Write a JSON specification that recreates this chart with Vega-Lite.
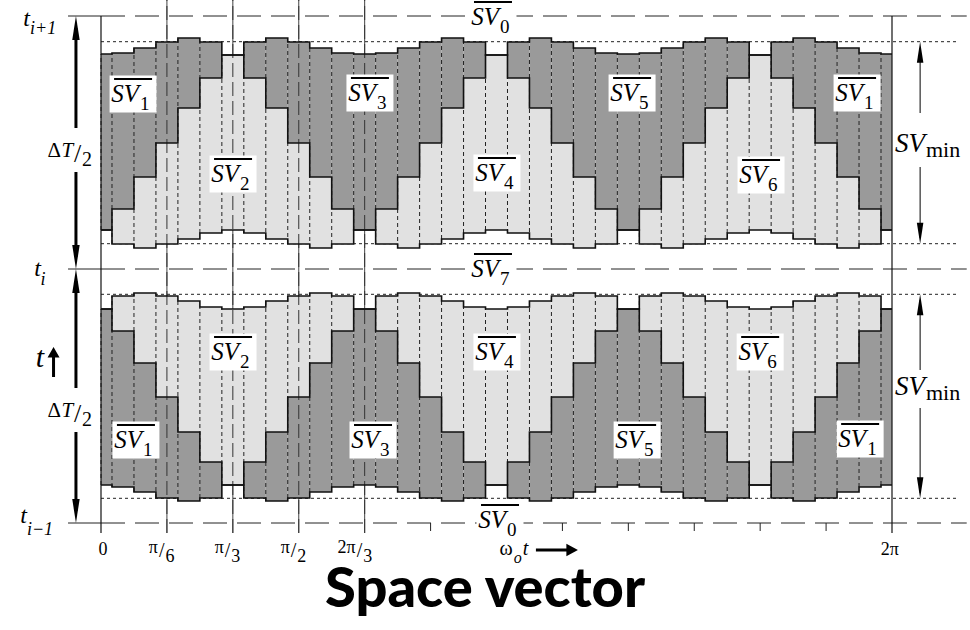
{
"$schema": "https://vega.github.io/schema/vega-lite/v6.json",
"width": 791, "height": 507,
"autosize": {"type": "none"},
"padding": {"left": 101, "top": 16, "right": 78, "bottom": 107},
"background": "white",
"config": {"view": {"stroke": null}, "text": {"font": "'Liberation Serif', 'Times New Roman', Times, serif"}},
"datasets": {
"cols": [
{"h":"u","a":0,"a0":0,"a1":5,"top":469,"mid":293,"bot":293,"up":"SV1","lo":"SV2"},
{"h":"u","a":10,"a0":5,"a1":15,"top":470,"mid":314,"bot":279,"up":"SV1","lo":"SV2"},
{"h":"u","a":20,"a0":15,"a1":25,"top":475,"mid":346,"bot":275,"up":"SV1","lo":"SV2"},
{"h":"u","a":30,"a0":25,"a1":35,"top":481,"mid":380,"bot":279,"up":"SV1","lo":"SV2"},
{"h":"u","a":40,"a0":35,"a1":45,"top":485,"mid":415,"bot":284,"up":"SV1","lo":"SV2"},
{"h":"u","a":50,"a0":45,"a1":55,"top":481,"mid":445,"bot":290,"up":"SV1","lo":"SV2"},
{"h":"u","a":60,"a0":55,"a1":65,"top":468,"mid":468,"bot":293,"up":"SV3","lo":"SV2"},
{"h":"u","a":70,"a0":65,"a1":75,"top":481,"mid":445,"bot":290,"up":"SV3","lo":"SV2"},
{"h":"u","a":80,"a0":75,"a1":85,"top":485,"mid":415,"bot":284,"up":"SV3","lo":"SV2"},
{"h":"u","a":90,"a0":85,"a1":95,"top":481,"mid":380,"bot":279,"up":"SV3","lo":"SV2"},
{"h":"u","a":100,"a0":95,"a1":105,"top":475,"mid":346,"bot":275,"up":"SV3","lo":"SV2"},
{"h":"u","a":110,"a0":105,"a1":115,"top":470,"mid":314,"bot":279,"up":"SV3","lo":"SV2"},
{"h":"u","a":120,"a0":115,"a1":125,"top":469,"mid":293,"bot":293,"up":"SV3","lo":"SV4"},
{"h":"u","a":130,"a0":125,"a1":135,"top":470,"mid":314,"bot":279,"up":"SV3","lo":"SV4"},
{"h":"u","a":140,"a0":135,"a1":145,"top":475,"mid":346,"bot":275,"up":"SV3","lo":"SV4"},
{"h":"u","a":150,"a0":145,"a1":155,"top":481,"mid":380,"bot":279,"up":"SV3","lo":"SV4"},
{"h":"u","a":160,"a0":155,"a1":165,"top":485,"mid":415,"bot":284,"up":"SV3","lo":"SV4"},
{"h":"u","a":170,"a0":165,"a1":175,"top":481,"mid":445,"bot":290,"up":"SV3","lo":"SV4"},
{"h":"u","a":180,"a0":175,"a1":185,"top":468,"mid":468,"bot":293,"up":"SV5","lo":"SV4"},
{"h":"u","a":190,"a0":185,"a1":195,"top":481,"mid":445,"bot":290,"up":"SV5","lo":"SV4"},
{"h":"u","a":200,"a0":195,"a1":205,"top":485,"mid":415,"bot":284,"up":"SV5","lo":"SV4"},
{"h":"u","a":210,"a0":205,"a1":215,"top":481,"mid":380,"bot":279,"up":"SV5","lo":"SV4"},
{"h":"u","a":220,"a0":215,"a1":225,"top":475,"mid":346,"bot":275,"up":"SV5","lo":"SV4"},
{"h":"u","a":230,"a0":225,"a1":235,"top":470,"mid":314,"bot":279,"up":"SV5","lo":"SV4"},
{"h":"u","a":240,"a0":235,"a1":245,"top":469,"mid":293,"bot":293,"up":"SV5","lo":"SV6"},
{"h":"u","a":250,"a0":245,"a1":255,"top":470,"mid":314,"bot":279,"up":"SV5","lo":"SV6"},
{"h":"u","a":260,"a0":255,"a1":265,"top":475,"mid":346,"bot":275,"up":"SV5","lo":"SV6"},
{"h":"u","a":270,"a0":265,"a1":275,"top":481,"mid":380,"bot":279,"up":"SV5","lo":"SV6"},
{"h":"u","a":280,"a0":275,"a1":285,"top":485,"mid":415,"bot":284,"up":"SV5","lo":"SV6"},
{"h":"u","a":290,"a0":285,"a1":295,"top":481,"mid":445,"bot":290,"up":"SV5","lo":"SV6"},
{"h":"u","a":300,"a0":295,"a1":305,"top":468,"mid":468,"bot":293,"up":"SV1","lo":"SV6"},
{"h":"u","a":310,"a0":305,"a1":315,"top":481,"mid":445,"bot":290,"up":"SV1","lo":"SV6"},
{"h":"u","a":320,"a0":315,"a1":325,"top":485,"mid":415,"bot":284,"up":"SV1","lo":"SV6"},
{"h":"u","a":330,"a0":325,"a1":335,"top":481,"mid":380,"bot":279,"up":"SV1","lo":"SV6"},
{"h":"u","a":340,"a0":335,"a1":345,"top":475,"mid":346,"bot":275,"up":"SV1","lo":"SV6"},
{"h":"u","a":350,"a0":345,"a1":355,"top":470,"mid":314,"bot":279,"up":"SV1","lo":"SV6"},
{"h":"u","a":360,"a0":355,"a1":360,"top":469,"mid":293,"bot":293,"up":"SV1","lo":"SV6"},
{"h":"l","a":0,"a0":0,"a1":5,"top":214,"mid":214,"bot":38,"up":"SV2","lo":"SV1"},
{"h":"l","a":10,"a0":5,"a1":15,"top":227,"mid":192,"bot":36,"up":"SV2","lo":"SV1"},
{"h":"l","a":20,"a0":15,"a1":25,"top":230,"mid":160,"bot":31,"up":"SV2","lo":"SV1"},
{"h":"l","a":30,"a0":25,"a1":35,"top":227,"mid":126,"bot":25,"up":"SV2","lo":"SV1"},
{"h":"l","a":40,"a0":35,"a1":45,"top":222,"mid":91,"bot":22,"up":"SV2","lo":"SV1"},
{"h":"l","a":50,"a0":45,"a1":55,"top":216,"mid":61,"bot":25,"up":"SV2","lo":"SV1"},
{"h":"l","a":60,"a0":55,"a1":65,"top":214,"mid":38,"bot":38,"up":"SV2","lo":"SV3"},
{"h":"l","a":70,"a0":65,"a1":75,"top":216,"mid":61,"bot":25,"up":"SV2","lo":"SV3"},
{"h":"l","a":80,"a0":75,"a1":85,"top":222,"mid":91,"bot":22,"up":"SV2","lo":"SV3"},
{"h":"l","a":90,"a0":85,"a1":95,"top":227,"mid":126,"bot":25,"up":"SV2","lo":"SV3"},
{"h":"l","a":100,"a0":95,"a1":105,"top":230,"mid":160,"bot":31,"up":"SV2","lo":"SV3"},
{"h":"l","a":110,"a0":105,"a1":115,"top":227,"mid":192,"bot":36,"up":"SV2","lo":"SV3"},
{"h":"l","a":120,"a0":115,"a1":125,"top":214,"mid":214,"bot":38,"up":"SV4","lo":"SV3"},
{"h":"l","a":130,"a0":125,"a1":135,"top":227,"mid":192,"bot":36,"up":"SV4","lo":"SV3"},
{"h":"l","a":140,"a0":135,"a1":145,"top":230,"mid":160,"bot":31,"up":"SV4","lo":"SV3"},
{"h":"l","a":150,"a0":145,"a1":155,"top":227,"mid":126,"bot":25,"up":"SV4","lo":"SV3"},
{"h":"l","a":160,"a0":155,"a1":165,"top":222,"mid":91,"bot":22,"up":"SV4","lo":"SV3"},
{"h":"l","a":170,"a0":165,"a1":175,"top":216,"mid":61,"bot":25,"up":"SV4","lo":"SV3"},
{"h":"l","a":180,"a0":175,"a1":185,"top":214,"mid":38,"bot":38,"up":"SV4","lo":"SV5"},
{"h":"l","a":190,"a0":185,"a1":195,"top":216,"mid":61,"bot":25,"up":"SV4","lo":"SV5"},
{"h":"l","a":200,"a0":195,"a1":205,"top":222,"mid":91,"bot":22,"up":"SV4","lo":"SV5"},
{"h":"l","a":210,"a0":205,"a1":215,"top":227,"mid":126,"bot":25,"up":"SV4","lo":"SV5"},
{"h":"l","a":220,"a0":215,"a1":225,"top":230,"mid":160,"bot":31,"up":"SV4","lo":"SV5"},
{"h":"l","a":230,"a0":225,"a1":235,"top":227,"mid":192,"bot":36,"up":"SV4","lo":"SV5"},
{"h":"l","a":240,"a0":235,"a1":245,"top":214,"mid":214,"bot":38,"up":"SV6","lo":"SV5"},
{"h":"l","a":250,"a0":245,"a1":255,"top":227,"mid":192,"bot":36,"up":"SV6","lo":"SV5"},
{"h":"l","a":260,"a0":255,"a1":265,"top":230,"mid":160,"bot":31,"up":"SV6","lo":"SV5"},
{"h":"l","a":270,"a0":265,"a1":275,"top":227,"mid":126,"bot":25,"up":"SV6","lo":"SV5"},
{"h":"l","a":280,"a0":275,"a1":285,"top":222,"mid":91,"bot":22,"up":"SV6","lo":"SV5"},
{"h":"l","a":290,"a0":285,"a1":295,"top":216,"mid":61,"bot":25,"up":"SV6","lo":"SV5"},
{"h":"l","a":300,"a0":295,"a1":305,"top":214,"mid":38,"bot":38,"up":"SV6","lo":"SV1"},
{"h":"l","a":310,"a0":305,"a1":315,"top":216,"mid":61,"bot":25,"up":"SV6","lo":"SV1"},
{"h":"l","a":320,"a0":315,"a1":325,"top":222,"mid":91,"bot":22,"up":"SV6","lo":"SV1"},
{"h":"l","a":330,"a0":325,"a1":335,"top":227,"mid":126,"bot":25,"up":"SV6","lo":"SV1"},
{"h":"l","a":340,"a0":335,"a1":345,"top":230,"mid":160,"bot":31,"up":"SV6","lo":"SV1"},
{"h":"l","a":350,"a0":345,"a1":355,"top":227,"mid":192,"bot":36,"up":"SV6","lo":"SV1"},
{"h":"l","a":360,"a0":355,"a1":360,"top":214,"mid":214,"bot":38,"up":"SV6","lo":"SV1"}
],
"vgrid": [{"a":30,"v0":-10,"v1":523},{"a":60,"v0":-10,"v1":523},{"a":90,"v0":-10,"v1":523},{"a":120,"v0":-10,"v1":523}],
"edges": [{"a":0,"v0":-10,"v1":507},{"a":360,"v0":-10,"v1":507}],
"ticks": [{"a":150,"v0":0,"v1":-8},{"a":180,"v0":0,"v1":-8},{"a":210,"v0":0,"v1":-8},{"a":240,"v0":0,"v1":-8},{"a":270,"v0":0,"v1":-8},{"a":300,"v0":0,"v1":-8},{"a":330,"v0":0,"v1":-8}],
"hsolid": [{"v":507,"a0":-15,"a1":0},{"v":254,"a0":-15,"a1":0},{"v":0,"a0":-15,"a1":0}],
"hdash": [{"v":507,"a0":0,"a1":394},{"v":254,"a0":0,"a1":394},{"v":0,"a0":0,"a1":394}],
"hdot": [{"v":481.3,"a0":0,"a1":390},{"v":279.3,"a0":0,"a1":390},{"v":228.7,"a0":0,"a1":390},{"v":24.7,"a0":0,"a1":390}],
"svlab": [
{"a":14.6,"v":429,"n":"1"},{"a":60.1,"v":349,"n":"2"},{"a":122.4,"v":430,"n":"3"},{"a":180.2,"v":350,"n":"4"},{"a":241.7,"v":430,"n":"5"},{"a":300.4,"v":348,"n":"6"},{"a":344.1,"v":430,"n":"1"},
{"a":15.9,"v":83,"n":"1"},{"a":60.1,"v":171,"n":"2"},{"a":123.8,"v":83,"n":"3"},{"a":180.2,"v":171,"n":"4"},{"a":244,"v":83,"n":"5"},{"a":300,"v":171,"n":"6"},{"a":345.5,"v":84,"n":"1"},
{"a":178.4,"v":506,"n":"0"},{"a":178.4,"v":254,"n":"7"},{"a":181.6,"v":3,"n":"0"}
],
"larrow": [{"a":-11.4,"v0":495,"v1":395},{"a":-11.4,"v0":351,"v1":266},{"a":-11.4,"v0":242,"v1":135},{"a":-11.4,"v0":91,"v1":12}],
"lheads": [{"a":-11.4,"v":507,"d":"up"},{"a":-11.4,"v":254,"d":"down"},{"a":-11.4,"v":254,"d":"up"},{"a":-11.4,"v":0,"d":"down"}],
"rarrow": [{"a":372.8,"v0":475,"v1":410},{"a":372.8,"v0":356,"v1":285},{"a":372.8,"v0":223,"v1":153},{"a":372.8,"v0":115,"v1":30}],
"rheads": [{"a":372.8,"v":481.3,"d":"up"},{"a":372.8,"v":279.3,"d":"down"},{"a":372.8,"v":228.7,"d":"up"},{"a":372.8,"v":24.7,"d":"down"}],
"tmain": [{"a":-32.3,"v":497},{"a":-27.3,"v":247},{"a":-33.7,"v":0}],
"tsub": [{"a":-32.3,"v":489,"s":"i+1"},{"a":-27.5,"v":238,"s":"i"},{"a":-33.7,"v":-12,"s":"i−1"}],
"dt": [{"a":-12.7,"v":366},{"a":-12.7,"v":106}],
"svmin": [{"a":375,"v":371},{"a":375,"v":128}],
"tarrow": [{"a":-25.9,"v":156,"ax":-21.6,"av":161}],
"single": [{"a":0.9,"v":-32,"s":"0"},{"a":359,"v":-32,"s":"2π"}],
"fracs": [{"a":30,"v":-30,"num":"π","den":"6"},{"a":60,"v":-30,"num":"π","den":"3"},{"a":90,"v":-30,"num":"π","den":"2"},{"a":120,"v":-30,"num":"2π","den":"3"}],
"omega": [{"a":186.5,"v":-32,"aa":207.5,"av":-27}],
"title": [{"a":174.8,"v":-84,"s":"Space vector"}]
},
"layer": [
{"data":{"name":"vgrid"},"mark":{"type":"rule","color":"#444","strokeWidth":1},
 "encoding":{"x":{"field":"a","type":"quantitative","scale":{"domain":[0,360],"nice":false,"zero":false},"axis":null},
 "y":{"field":"v0","type":"quantitative","scale":{"domain":[0,507],"nice":false,"zero":false},"axis":null},"y2":{"field":"v1"}}},
{"data":{"name":"ticks"},"mark":{"type":"rule","color":"#222","strokeWidth":1},
 "encoding":{"x":{"field":"a","type":"quantitative","scale":{"domain":[0,360],"nice":false,"zero":false},"axis":null},
 "y":{"field":"v0","type":"quantitative","scale":{"domain":[0,507],"nice":false,"zero":false},"axis":null},"y2":{"field":"v1"}}},
{"data":{"name":"hsolid"},"mark":{"type":"rule","color":"#222","strokeWidth":1},
 "encoding":{"x":{"field":"a0","type":"quantitative","scale":{"domain":[0,360],"nice":false,"zero":false},"axis":null},"x2":{"field":"a1"},
 "y":{"field":"v","type":"quantitative","scale":{"domain":[0,507],"nice":false,"zero":false},"axis":null}}},
{"data":{"name":"hdash"},"mark":{"type":"rule","color":"#222","strokeWidth":1,"strokeDash":[24,10]},
 "encoding":{"x":{"field":"a0","type":"quantitative","scale":{"domain":[0,360],"nice":false,"zero":false},"axis":null},"x2":{"field":"a1"},
 "y":{"field":"v","type":"quantitative","scale":{"domain":[0,507],"nice":false,"zero":false},"axis":null}}},
{"data":{"name":"hdot"},"mark":{"type":"rule","color":"#222","strokeWidth":1,"strokeDash":[3,3]},
 "encoding":{"x":{"field":"a0","type":"quantitative","scale":{"domain":[0,360],"nice":false,"zero":false},"axis":null},"x2":{"field":"a1"},
 "y":{"field":"v","type":"quantitative","scale":{"domain":[0,507],"nice":false,"zero":false},"axis":null}}},
{"data":{"name":"cols"},"mark":{"type":"rect","strokeWidth":0},
 "encoding":{"x":{"field":"a0","type":"quantitative","scale":{"domain":[0,360],"nice":false,"zero":false},"axis":null},"x2":{"field":"a1"},
 "y":{"field":"mid","type":"quantitative","scale":{"domain":[0,507],"nice":false,"zero":false},"axis":null},"y2":{"field":"top"},
 "color":{"field":"up","type":"nominal","scale":{"domain":["SV1","SV2","SV3","SV4","SV5","SV6"],"range":["#9a9a9a","#e1e1e1","#9a9a9a","#e1e1e1","#9a9a9a","#e1e1e1"]},"legend":null}}},
{"data":{"name":"cols"},"mark":{"type":"rect","strokeWidth":0},
 "encoding":{"x":{"field":"a0","type":"quantitative","scale":{"domain":[0,360],"nice":false,"zero":false},"axis":null},"x2":{"field":"a1"},
 "y":{"field":"bot","type":"quantitative","scale":{"domain":[0,507],"nice":false,"zero":false},"axis":null},"y2":{"field":"mid"},
 "color":{"field":"lo","type":"nominal","scale":{"domain":["SV1","SV2","SV3","SV4","SV5","SV6"],"range":["#9a9a9a","#e1e1e1","#9a9a9a","#e1e1e1","#9a9a9a","#e1e1e1"]},"legend":null}}},
{"data":{"name":"vgrid"},"mark":{"type":"rule","color":"#333","strokeWidth":1,"strokeDash":[14,5]},
 "encoding":{"x":{"field":"a","type":"quantitative","scale":{"domain":[0,360],"nice":false,"zero":false},"axis":null},
 "y":{"field":"v0","type":"quantitative","scale":{"domain":[0,507],"nice":false,"zero":false},"axis":null},"y2":{"field":"v1"}}},
{"data":{"name":"cols"},"mark":{"type":"rule","color":"#222","strokeWidth":1,"strokeDash":[4,3]},
 "encoding":{"x":{"field":"a0","type":"quantitative","scale":{"domain":[0,360],"nice":false,"zero":false},"axis":null},
 "y":{"field":"bot","type":"quantitative","scale":{"domain":[0,507],"nice":false,"zero":false},"axis":null},"y2":{"field":"top"}}},
{"data":{"name":"edges"},"mark":{"type":"rule","color":"#111","strokeWidth":1.2},
 "encoding":{"x":{"field":"a","type":"quantitative","scale":{"domain":[0,360],"nice":false,"zero":false},"axis":null},
 "y":{"field":"v0","type":"quantitative","scale":{"domain":[0,507],"nice":false,"zero":false},"axis":null},"y2":{"field":"v1"}}},
{"data":{"name":"cols"},"mark":{"type":"line","interpolate":"step","color":"#111","strokeWidth":1.6},
 "encoding":{"x":{"field":"a","type":"quantitative","scale":{"domain":[0,360],"nice":false,"zero":false},"axis":null},
 "y":{"field":"top","type":"quantitative","scale":{"domain":[0,507],"nice":false,"zero":false},"axis":null},"detail":{"field":"h"}}},
{"data":{"name":"cols"},"mark":{"type":"line","interpolate":"step","color":"#111","strokeWidth":1.6},
 "encoding":{"x":{"field":"a","type":"quantitative","scale":{"domain":[0,360],"nice":false,"zero":false},"axis":null},
 "y":{"field":"mid","type":"quantitative","scale":{"domain":[0,507],"nice":false,"zero":false},"axis":null},"detail":{"field":"h"}}},
{"data":{"name":"cols"},"mark":{"type":"line","interpolate":"step","color":"#111","strokeWidth":1.6},
 "encoding":{"x":{"field":"a","type":"quantitative","scale":{"domain":[0,360],"nice":false,"zero":false},"axis":null},
 "y":{"field":"bot","type":"quantitative","scale":{"domain":[0,507],"nice":false,"zero":false},"axis":null},"detail":{"field":"h"}}},
{"data":{"name":"svlab"},"mark":{"type":"point","shape":"M-1,-0.79H1V0.79H-1Z","size":2209,"filled":true,"color":"white","opacity":1,"strokeWidth":0},
 "encoding":{"x":{"field":"a","type":"quantitative","scale":{"domain":[0,360],"nice":false,"zero":false},"axis":null},
 "y":{"field":"v","type":"quantitative","scale":{"domain":[0,507],"nice":false,"zero":false},"axis":null}}},
{"data":{"name":"svlab"},"mark":{"type":"text","text":"SV","fontStyle":"italic","fontSize":25,"align":"right","baseline":"alphabetic","dx":6,"dy":8,"color":"black"},
 "encoding":{"x":{"field":"a","type":"quantitative","scale":{"domain":[0,360],"nice":false,"zero":false},"axis":null},
 "y":{"field":"v","type":"quantitative","scale":{"domain":[0,507],"nice":false,"zero":false},"axis":null}}},
{"data":{"name":"svlab"},"mark":{"type":"text","fontSize":19,"align":"left","baseline":"alphabetic","dx":7,"dy":16,"color":"black"},
 "encoding":{"x":{"field":"a","type":"quantitative","scale":{"domain":[0,360],"nice":false,"zero":false},"axis":null},
 "y":{"field":"v","type":"quantitative","scale":{"domain":[0,507],"nice":false,"zero":false},"axis":null},"text":{"field":"n"}}},
{"data":{"name":"svlab"},"mark":{"type":"rule","color":"black","strokeWidth":2,"xOffset":-19,"x2Offset":19,"yOffset":-15},
 "encoding":{"x":{"field":"a","type":"quantitative","scale":{"domain":[0,360],"nice":false,"zero":false},"axis":null},"x2":{"field":"a"},
 "y":{"field":"v","type":"quantitative","scale":{"domain":[0,507],"nice":false,"zero":false},"axis":null}}},
{"data":{"name":"larrow"},"mark":{"type":"rule","color":"black","strokeWidth":3},
 "encoding":{"x":{"field":"a","type":"quantitative","scale":{"domain":[0,360],"nice":false,"zero":false},"axis":null},
 "y":{"field":"v0","type":"quantitative","scale":{"domain":[0,507],"nice":false,"zero":false},"axis":null},"y2":{"field":"v1"}}},
{"data":{"name":"lheads"},"mark":{"type":"point","size":576,"filled":true,"color":"black","opacity":1,"strokeWidth":0},
 "encoding":{"x":{"field":"a","type":"quantitative","scale":{"domain":[0,360],"nice":false,"zero":false},"axis":null},
 "y":{"field":"v","type":"quantitative","scale":{"domain":[0,507],"nice":false,"zero":false},"axis":null},
 "shape":{"field":"d","type":"nominal","scale":{"domain":["up","down"],"range":["M0,0L0.31,2L-0.31,2Z","M0,0L0.31,-2L-0.31,-2Z"]},"legend":null}}},
{"data":{"name":"rarrow"},"mark":{"type":"rule","color":"black","strokeWidth":1},
 "encoding":{"x":{"field":"a","type":"quantitative","scale":{"domain":[0,360],"nice":false,"zero":false},"axis":null},
 "y":{"field":"v0","type":"quantitative","scale":{"domain":[0,507],"nice":false,"zero":false},"axis":null},"y2":{"field":"v1"}}},
{"data":{"name":"rheads"},"mark":{"type":"point","size":441,"filled":true,"color":"black","opacity":1,"strokeWidth":0},
 "encoding":{"x":{"field":"a","type":"quantitative","scale":{"domain":[0,360],"nice":false,"zero":false},"axis":null},
 "y":{"field":"v","type":"quantitative","scale":{"domain":[0,507],"nice":false,"zero":false},"axis":null},
 "shape":{"field":"d","type":"nominal","scale":{"domain":["up","down"],"range":["M0,0L0.28,2L-0.28,2Z","M0,0L0.28,-2L-0.28,-2Z"]},"legend":null}}},
{"data":{"name":"tmain"},"mark":{"type":"text","text":"t","fontStyle":"italic","fontSize":24,"align":"right","baseline":"alphabetic","color":"black"},
 "encoding":{"x":{"field":"a","type":"quantitative","scale":{"domain":[0,360],"nice":false,"zero":false},"axis":null},
 "y":{"field":"v","type":"quantitative","scale":{"domain":[0,507],"nice":false,"zero":false},"axis":null}}},
{"data":{"name":"tsub"},"mark":{"type":"text","fontStyle":"italic","fontSize":18,"align":"left","baseline":"alphabetic","color":"black"},
 "encoding":{"x":{"field":"a","type":"quantitative","scale":{"domain":[0,360],"nice":false,"zero":false},"axis":null},
 "y":{"field":"v","type":"quantitative","scale":{"domain":[0,507],"nice":false,"zero":false},"axis":null},"text":{"field":"s"}}},
{"data":{"name":"dt"},"mark":{"type":"text","text":"Δ","fontSize":21,"align":"right","baseline":"alphabetic","dx":-12,"color":"black"},
 "encoding":{"x":{"field":"a","type":"quantitative","scale":{"domain":[0,360],"nice":false,"zero":false},"axis":null},
 "y":{"field":"v","type":"quantitative","scale":{"domain":[0,507],"nice":false,"zero":false},"axis":null}}},
{"data":{"name":"dt"},"mark":{"type":"text","text":"T","fontStyle":"italic","fontSize":21,"align":"right","baseline":"alphabetic","dx":0,"color":"black"},
 "encoding":{"x":{"field":"a","type":"quantitative","scale":{"domain":[0,360],"nice":false,"zero":false},"axis":null},
 "y":{"field":"v","type":"quantitative","scale":{"domain":[0,507],"nice":false,"zero":false},"axis":null}}},
{"data":{"name":"dt"},"mark":{"type":"text","text":"/","fontSize":26,"align":"left","baseline":"alphabetic","dx":1,"dy":5,"color":"black"},
 "encoding":{"x":{"field":"a","type":"quantitative","scale":{"domain":[0,360],"nice":false,"zero":false},"axis":null},
 "y":{"field":"v","type":"quantitative","scale":{"domain":[0,507],"nice":false,"zero":false},"axis":null}}},
{"data":{"name":"dt"},"mark":{"type":"text","text":"2","fontSize":20,"align":"left","baseline":"alphabetic","dx":9,"dy":9,"color":"black"},
 "encoding":{"x":{"field":"a","type":"quantitative","scale":{"domain":[0,360],"nice":false,"zero":false},"axis":null},
 "y":{"field":"v","type":"quantitative","scale":{"domain":[0,507],"nice":false,"zero":false},"axis":null}}},
{"data":{"name":"tarrow"},"mark":{"type":"text","text":"t","fontStyle":"italic","fontSize":30,"align":"right","baseline":"alphabetic","color":"black"},
 "encoding":{"x":{"field":"a","type":"quantitative","scale":{"domain":[0,360],"nice":false,"zero":false},"axis":null},
 "y":{"field":"v","type":"quantitative","scale":{"domain":[0,507],"nice":false,"zero":false},"axis":null}}},
{"data":{"name":"tarrow"},"mark":{"type":"point","shape":"M0,-1L0.4,-0.3L0.1,-0.3L0.1,1L-0.1,1L-0.1,-0.3L-0.4,-0.3Z","size":900,"filled":true,"color":"black","opacity":1,"strokeWidth":0},
 "encoding":{"x":{"field":"ax","type":"quantitative","scale":{"domain":[0,360],"nice":false,"zero":false},"axis":null},
 "y":{"field":"av","type":"quantitative","scale":{"domain":[0,507],"nice":false,"zero":false},"axis":null}}},
{"data":{"name":"svmin"},"mark":{"type":"text","text":"SV","fontStyle":"italic","fontSize":27,"align":"right","baseline":"alphabetic","color":"black"},
 "encoding":{"x":{"field":"a","type":"quantitative","scale":{"domain":[0,360],"nice":false,"zero":false},"axis":null},
 "y":{"field":"v","type":"quantitative","scale":{"domain":[0,507],"nice":false,"zero":false},"axis":null}}},
{"data":{"name":"svmin"},"mark":{"type":"text","text":"min","fontSize":22,"align":"left","baseline":"alphabetic","dx":1,"dy":5,"color":"black"},
 "encoding":{"x":{"field":"a","type":"quantitative","scale":{"domain":[0,360],"nice":false,"zero":false},"axis":null},
 "y":{"field":"v","type":"quantitative","scale":{"domain":[0,507],"nice":false,"zero":false},"axis":null}}},
{"data":{"name":"single"},"mark":{"type":"text","fontSize":18,"align":"center","baseline":"alphabetic","color":"black"},
 "encoding":{"x":{"field":"a","type":"quantitative","scale":{"domain":[0,360],"nice":false,"zero":false},"axis":null},
 "y":{"field":"v","type":"quantitative","scale":{"domain":[0,507],"nice":false,"zero":false},"axis":null},"text":{"field":"s"}}},
{"data":{"name":"fracs"},"mark":{"type":"text","fontSize":18,"align":"right","baseline":"alphabetic","dx":-9,"color":"black"},
 "encoding":{"x":{"field":"a","type":"quantitative","scale":{"domain":[0,360],"nice":false,"zero":false},"axis":null},
 "y":{"field":"v","type":"quantitative","scale":{"domain":[0,507],"nice":false,"zero":false},"axis":null},"text":{"field":"num"}}},
{"data":{"name":"fracs"},"mark":{"type":"text","text":"/","fontSize":20,"align":"left","baseline":"alphabetic","dx":-8,"dy":4,"color":"black"},
 "encoding":{"x":{"field":"a","type":"quantitative","scale":{"domain":[0,360],"nice":false,"zero":false},"axis":null},
 "y":{"field":"v","type":"quantitative","scale":{"domain":[0,507],"nice":false,"zero":false},"axis":null}}},
{"data":{"name":"fracs"},"mark":{"type":"text","fontSize":18,"align":"left","baseline":"alphabetic","dx":-1.5,"dy":9,"color":"black"},
 "encoding":{"x":{"field":"a","type":"quantitative","scale":{"domain":[0,360],"nice":false,"zero":false},"axis":null},
 "y":{"field":"v","type":"quantitative","scale":{"domain":[0,507],"nice":false,"zero":false},"axis":null},"text":{"field":"den"}}},
{"data":{"name":"omega"},"mark":{"type":"text","text":"ω","fontSize":20,"align":"right","baseline":"alphabetic","dx":2,"color":"black"},
 "encoding":{"x":{"field":"a","type":"quantitative","scale":{"domain":[0,360],"nice":false,"zero":false},"axis":null},
 "y":{"field":"v","type":"quantitative","scale":{"domain":[0,507],"nice":false,"zero":false},"axis":null}}},
{"data":{"name":"omega"},"mark":{"type":"text","text":"o","fontStyle":"italic","fontSize":16,"align":"left","baseline":"alphabetic","dx":3,"dy":8,"color":"black"},
 "encoding":{"x":{"field":"a","type":"quantitative","scale":{"domain":[0,360],"nice":false,"zero":false},"axis":null},
 "y":{"field":"v","type":"quantitative","scale":{"domain":[0,507],"nice":false,"zero":false},"axis":null}}},
{"data":{"name":"omega"},"mark":{"type":"text","text":"t","fontStyle":"italic","fontSize":20,"align":"left","baseline":"alphabetic","dx":12,"color":"black"},
 "encoding":{"x":{"field":"a","type":"quantitative","scale":{"domain":[0,360],"nice":false,"zero":false},"axis":null},
 "y":{"field":"v","type":"quantitative","scale":{"domain":[0,507],"nice":false,"zero":false},"axis":null}}},
{"data":{"name":"omega"},"mark":{"type":"point","shape":"M1,0L0.45,-0.3L0.45,-0.07L-1,-0.07L-1,0.07L0.45,0.07L0.45,0.3Z","size":1764,"filled":true,"color":"black","opacity":1,"strokeWidth":0},
 "encoding":{"x":{"field":"aa","type":"quantitative","scale":{"domain":[0,360],"nice":false,"zero":false},"axis":null},
 "y":{"field":"av","type":"quantitative","scale":{"domain":[0,507],"nice":false,"zero":false},"axis":null}}},
{"data":{"name":"title"},"mark":{"type":"text","font":"'Noto Sans Condensed', Lato, 'DejaVu Sans'","fontWeight":900,"fontSize":56,"align":"center","baseline":"alphabetic","color":"black"},
 "encoding":{"x":{"field":"a","type":"quantitative","scale":{"domain":[0,360],"nice":false,"zero":false},"axis":null},
 "y":{"field":"v","type":"quantitative","scale":{"domain":[0,507],"nice":false,"zero":false},"axis":null},"text":{"field":"s"}}}
]
}
